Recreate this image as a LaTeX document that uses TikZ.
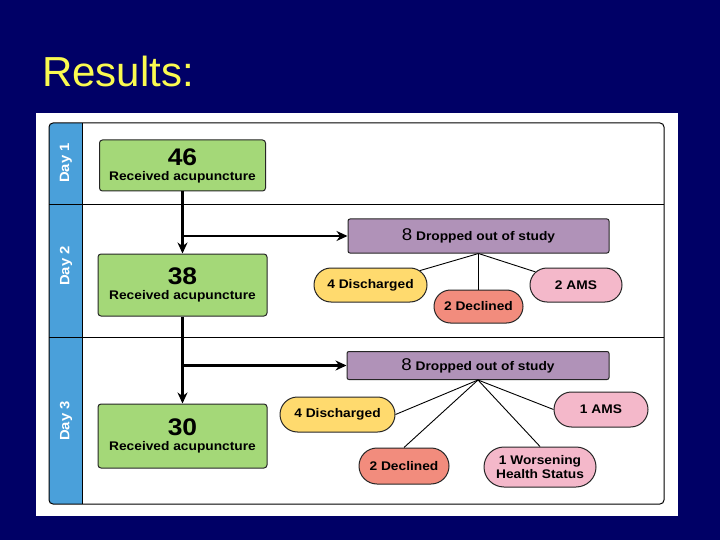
\documentclass[tikz,border=0pt]{standalone}
\usepackage{fontspec}
\setmainfont{Liberation Sans}
\newfontfamily\chartfont[FakeStretch=1.1]{Liberation Sans}
\usetikzlibrary{arrows.meta, shapes.misc}

\definecolor{slidebg}{RGB}{0,0,102}
\definecolor{titleyellow}{RGB}{250,250,80}
\definecolor{laneblue}{RGB}{74,160,218}
\definecolor{stagegreen}{RGB}{164,216,120}
\definecolor{droppurple}{RGB}{176,146,184}
\definecolor{disyellow}{RGB}{255,218,110}
\definecolor{decsalmon}{RGB}{242,140,125}
\definecolor{amspink}{RGB}{244,184,202}

\newcommand{\bignum}[1]{{\fontsize{24}{24}\selectfont #1}}

\tikzset{
  stage/.style={draw=black!85, fill=stagegreen, rounded corners=3pt, line width=1pt,
    align=center, font=\chartfont\bfseries\fontsize{12.5}{15}\selectfont},
  dropbox/.style={draw=black!85, fill=droppurple, rounded corners=2pt, line width=1pt,
    font=\chartfont\bfseries\fontsize{12.5}{14}\selectfont},
  reason/.style={rounded rectangle, draw=black!85, line width=1pt, inner sep=1pt,
    align=center, font=\chartfont\bfseries\fontsize{12.5}{14}\selectfont},
  daylbl/.style={rotate=90, text=white, font=\chartfont\bfseries\fontsize{13.5}{15}\selectfont},
  flow/.style={line width=2.6pt},
  twig/.style={line width=0.9pt}
}

\begin{document}
\begin{tikzpicture}[x=1pt, y=-1pt, >={Stealth[length=11pt,width=10pt]}]
  \useasboundingbox (0,0) rectangle (720,540);
  \fill[slidebg] (0,0) rectangle (720,540);
  \node[anchor=base west, inner sep=0, text=titleyellow, font=\fontsize{42}{42}\selectfont] (title) at (42,87) {Results:};
  \fill[white] (36,113) rectangle (678,516);

  % lanes
  \begin{scope}
    \clip[rounded corners=4pt] (49,123) rectangle (664,504);
    \fill[laneblue] (49,123) rectangle (82,504);
  \end{scope}
  \draw[line width=1pt, rounded corners=4pt] (49,123) rectangle (664,504);
  \draw[line width=1pt] (82,123) -- (82,504);
  \foreach \y in {205,337}{\draw[line width=1pt] (49,\y) -- (664,\y);}
  \foreach \y/\d in {163/1,266/2,421/3}{\node[daylbl] (day\d) at (66,\y) {Day \d};}

  % patients per day
  \node[stage, minimum width=166pt, minimum height=51pt] (rec1) at (182.5,165.5) {\bignum{46}\\Received acupuncture};
  \node[stage, minimum width=169pt, minimum height=62pt] (rec2) at (182.5,285) {\bignum{38}\\Received acupuncture};
  \node[stage, minimum width=169pt, minimum height=64pt] (rec3) at (182.5,436) {\bignum{30}\\Received acupuncture};

  \node[dropbox, minimum width=261pt, minimum height=34pt] (drop1) at (478.5,236) {{\mdseries\fontsize{17}{17}\selectfont 8} Dropped out of study};
  \node[dropbox, minimum width=262pt, minimum height=28pt] (drop2) at (478,365.5) {{\mdseries\fontsize{17}{17}\selectfont 8} Dropped out of study};

  % reasons
  \node[reason, fill=disyellow, minimum width=115pt, minimum height=34pt] (dis1) at (370.5,285) {4 Discharged};
  \node[reason, fill=decsalmon, minimum width=91pt, minimum height=33pt] (dec1) at (478.5,306.5) {2 Declined};
  \node[reason, fill=amspink, minimum width=94pt, minimum height=34pt] (ams1) at (576,285) {2 AMS};
  \node[reason, fill=disyellow, minimum width=117pt, minimum height=35pt] (dis2) at (337.5,414.5) {4 Discharged};
  \node[reason, fill=amspink, minimum width=96pt, minimum height=35pt] (ams2) at (601,409.5) {1 AMS};
  \node[reason, fill=decsalmon, minimum width=92pt, minimum height=36pt] (dec2) at (404,466) {2 Declined};
  \node[reason, fill=amspink, minimum width=114pt, minimum height=40pt] (wor2) at (540,467) {1 Worsening\\Health Status};

  % connectors
  \coordinate (split1) at (rec1.south |- drop1.west);
  \coordinate (split2) at (rec2.south |- drop2.west);
  \draw[flow,->] (rec1.south) -- (rec2.north);
  \draw[flow,->] (split1) -- (drop1.west);
  \draw[flow,->] (rec2.south) -- (rec3.north);
  \draw[flow,->] (split2) -- (drop2.west);
  \draw[twig] (drop1.south) -- (dis1);
  \draw[twig] (drop1.south) -- (dec1.north);
  \draw[twig] (drop1.south) -- (ams1);
  \draw[twig] (drop2.south) -- (dis2.east);
  \draw[twig] (drop2.south) -- (dec2.north);
  \draw[twig] (drop2.south) -- (wor2.north);
  \draw[twig] (drop2.south) -- (ams2.west);
\end{tikzpicture}
\end{document}
